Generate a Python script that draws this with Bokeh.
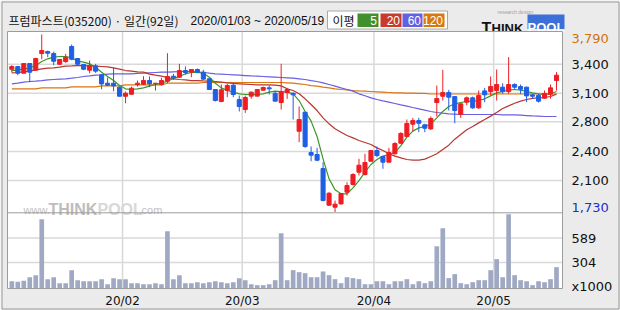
from bokeh.plotting import figure
from bokeh.models import Range1d, ColumnDataSource
from bokeh.core.properties import value
from bokeh.embed import file_html
from bokeh.resources import INLINE

# ---------------- data ----------------
title_name = "프럼파스트(035200) · 일간(92일)"
title_period = "2020/01/03 ~ 2020/05/19"

opens = [3387, 3418, 3341, 3453, 3376, 3569, 3592, 3569, 3445, 3476,
         3650, 3511, 3442, 3376, 3426, 3322, 3225, 3225, 3179, 3074,
         3097, 3210, 3213, 3256, 3218, 3210, 3248, 3306, 3295, 3372,
         3353, 3384, 3353, 3276, 3152, 3013, 3140, 3202, 3036, 2920,
         3075, 3075, 3144, 3171, 3109, 3001, 3117, 3109, 2668, 2889,
         2421, 2398, 2235, 1810, 1787, 1825, 1961, 2050, 2193, 2166,
         2320, 2444, 2375, 2309, 2406, 2529, 2607, 2750, 2792, 2742,
         2695, 3001, 3074, 3117, 3070, 2862, 3005, 3055, 2939, 3136,
         3128, 3140, 3179, 3128, 3210, 3186, 3179, 3090, 3082, 3051,
         3098, 3256]
highs = [3434, 3426, 3453, 3453, 3519, 3790, 3604, 3592, 3507, 3565,
         3674, 3511, 3449, 3488, 3449, 3333, 3291, 3403, 3186, 3128,
         3186, 3256, 3306, 3303, 3225, 3287, 3573, 3333, 3450, 3419,
         3384, 3396, 3380, 3287, 3152, 3210, 3218, 3218, 3082, 3082,
         3128, 3152, 3186, 3198, 3128, 3450, 3171, 3117, 2955, 2889,
         2491, 2475, 2309, 1961, 1864, 1945, 2077, 2181, 2348, 2406,
         2444, 2491, 2375, 2475, 2541, 2657, 2804, 2823, 2823, 2754,
         2839, 3198, 3380, 3148, 3070, 2986, 3070, 3070, 3140, 3171,
         3303, 3384, 3225, 3527, 3225, 3210, 3186, 3101, 3101, 3140,
         3210, 3353]
lows = [3349, 3318, 3341, 3237, 3376, 3503, 3527, 3434, 3438, 3461,
        3492, 3434, 3376, 3341, 3345, 3155, 3198, 3132, 3070, 2993,
        3090, 3186, 3205, 3179, 3140, 3198, 3225, 3264, 3287, 3326,
        3295, 3341, 3264, 3148, 3013, 3005, 3063, 3063, 2897, 2881,
        3044, 3075, 3140, 3094, 3013, 2920, 3044, 2804, 2541, 2475,
        2320, 2320, 1856, 1802, 1730, 1818, 1922, 2038, 2154, 2154,
        2320, 2367, 2232, 2309, 2398, 2521, 2599, 2669, 2657, 2657,
        2684, 2839, 3024, 2908, 2761, 2823, 2970, 2928, 2928, 3005,
        3082, 3024, 3101, 3101, 3155, 3101, 3005, 3044, 3001, 3044,
        3047, 3140]
closes = [3418, 3341, 3453, 3353, 3511, 3604, 3573, 3480, 3500, 3527,
          3503, 3445, 3387, 3430, 3365, 3217, 3202, 3194, 3074, 3109,
          3167, 3225, 3256, 3218, 3225, 3256, 3303, 3287, 3372, 3349,
          3384, 3353, 3272, 3152, 3024, 3148, 3198, 3094, 2955, 3059,
          3121, 3152, 3175, 3160, 3017, 3128, 3152, 3090, 2804, 2491,
          2390, 2332, 1864, 1949, 1822, 1945, 2038, 2166, 2274, 2305,
          2444, 2386, 2309, 2421, 2525, 2642, 2758, 2792, 2761, 2703,
          2815, 3047, 3117, 3063, 2908, 2986, 3055, 2939, 3082, 3090,
          3186, 3210, 3128, 3210, 3179, 3155, 3078, 3074, 3017, 3105,
          3171, 3318]
volumes = [85, 78, 90, 132, 156, 810, 109, 132, 62, 62,
           214, 97, 85, 85, 85, 109, 50, 121, 109, 109,
           62, 62, 50, 50, 62, 50, 670, 109, 156, 62,
           62, 74, 62, 74, 85, 74, 62, 74, 121, 97,
           50, 39, 39, 50, 97, 646, 97, 214, 191, 179,
           132, 132, 199, 156, 109, 62, 132, 121, 109, 50,
           50, 85, 85, 50, 85, 85, 109, 50, 85, 62,
           85, 493, 704, 121, 168, 62, 50, 74, 97, 97,
           214, 343, 132, 868, 156, 97, 85, 39, 85, 74,
           109, 249]
ma5 = [3372, 3380, 3388, 3403, 3430, 3477, 3508, 3527, 3535, 3535,
       3519, 3481, 3469, 3450, 3411, 3353, 3303, 3256, 3198, 3160,
       3152, 3160, 3171, 3191, 3210, 3225, 3249, 3280, 3303, 3334,
       3349, 3349, 3341, 3295, 3225, 3171, 3140, 3121, 3102, 3094,
       3094, 3094, 3102, 3121, 3133, 3129, 3121, 3102, 3024, 2897,
       2785, 2607, 2348, 2116, 1988, 1942, 1942, 2011, 2096, 2193,
       2282, 2340, 2379, 2398, 2421, 2502, 2599, 2669, 2707, 2723,
       2754, 2823, 2897, 2955, 2986, 3001, 3013, 3017, 3024, 3044,
       3078, 3113, 3129, 3144, 3152, 3144, 3129, 3113, 3102, 3094,
       3102, 3129]
ma20 = [3345, 3349, 3357, 3368, 3380, 3392, 3399, 3403, 3411, 3423,
        3426, 3430, 3430, 3426, 3423, 3419, 3415, 3403, 3388, 3372,
        3365, 3357, 3353, 3330, 3318, 3307, 3291, 3276, 3268, 3264,
        3256, 3256, 3252, 3249, 3245, 3237, 3229, 3222, 3218, 3214,
        3210, 3206, 3206, 3206, 3202, 3194, 3160, 3140, 3102, 3044,
        2978, 2908, 2823, 2754, 2696, 2657, 2618, 2591, 2560, 2537,
        2514, 2475, 2444, 2406, 2379, 2359, 2340, 2332, 2332, 2344,
        2375, 2406, 2456, 2506, 2576, 2630, 2684, 2723, 2765, 2804,
        2843, 2885, 2932, 2962, 2993, 3017, 3036, 3048, 3055, 3059,
        3071, 3098]
ma60 = [3218, 3225, 3237, 3245, 3249, 3256, 3264, 3268, 3272, 3276,
        3283, 3291, 3303, 3310, 3318, 3322, 3330, 3334, 3334, 3334,
        3334, 3338, 3341, 3345, 3349, 3353, 3353, 3357, 3361, 3361,
        3361, 3357, 3349, 3341, 3334, 3330, 3326, 3322, 3318, 3314,
        3310, 3307, 3303, 3299, 3295, 3291, 3287, 3283, 3276, 3268,
        3256, 3245, 3229, 3210, 3191, 3171, 3152, 3133, 3102, 3079,
        3055, 3036, 3020, 3005, 2990, 2974, 2959, 2943, 2928, 2912,
        2897, 2885, 2877, 2870, 2866, 2862, 2862, 2862, 2862, 2862,
        2862, 2862, 2858, 2858, 2858, 2854, 2850, 2846, 2843, 2839,
        2839, 2839]
ma120 = [3160, 3160, 3160, 3160, 3160, 3171, 3171, 3171, 3171, 3171,
         3183, 3183, 3183, 3183, 3183, 3194, 3194, 3194, 3194, 3206,
         3206, 3206, 3206, 3206, 3206, 3206, 3225, 3225, 3225, 3225,
         3225, 3225, 3233, 3233, 3233, 3233, 3233, 3233, 3233, 3233,
         3233, 3233, 3233, 3233, 3233, 3233, 3229, 3225, 3218, 3210,
         3198, 3191, 3179, 3171, 3160, 3152, 3148, 3140, 3136, 3133,
         3129, 3125, 3121, 3117, 3113, 3113, 3109, 3109, 3106, 3106,
         3100, 3100, 3100, 3100, 3100, 3100, 3100, 3100, 3100, 3100,
         3100, 3100, 3100, 3100, 3100, 3100, 3100, 3100, 3100, 3100,
         3100, 3100]

month_start_idx = [19, 39, 61, 81]
month_labels = ["20/02", "20/03", "20/04", "20/05"]

price_grid_values = [3445, 3109, 2777, 2433, 2096]
price_grid_labels = ["3,400", "3,100", "2,800", "2,400", "2,100"]
price_high, price_low = 3790, 1730
vol_grid_values = [589, 304]
vol_grid_labels = ["589", "304"]
vol_unit_label = "x1000"

ma_periods = ["5", "20", "60", "120"]

n = len(closes)
for arr in (opens, highs, lows, volumes, ma5, ma20, ma60, ma120):
    assert len(arr) == n

# ---------------- styles ----------------
BG = "#ebebeb"
RED = "#ee1d23"
BLUE = "#1f5fe4"
C_MA = ["#3b9826", "#b8362e", "#6a5fe0", "#dc7410"]
C_LEG = ["#41902c", "#c83a2d", "#6461de", "#d6790f"]
GRID = "#d9d9d9"
FRAME_C = "#9c9c9c"
FONT = "Noto Sans CJK KR"
NUMFONT = "DejaVu Sans"
LATIN = "Liberation Sans"

# geometry (pixels of the 620x310 picture)
W, H = 620, 310
FRAME_L, FRAME_R = 7, 562
FRAME_T, FRAME_B = 31, 288
SEP_Y = 212.3
X0, X1 = -0.72, 92.0
PX_PER_UNIT = (FRAME_R - FRAME_L) / (X1 - X0)
PRICE_PER_PX = 11.6
P_TOP = price_high + 3 * PRICE_PER_PX
VOL_PER_PX = 11.68


def xd(px):
    return (px - FRAME_L) / PX_PER_UNIT + X0


def yd(py):
    return P_TOP - (py - FRAME_T) * PRICE_PER_PX


def vd(py):
    return (FRAME_B - py) * VOL_PER_PX


P_BOT = yd(FRAME_B)
P_SEP = yd(SEP_Y)

# whole canvas is the frame; scales map the chart's own panels
p = figure(width=W, height=H, output_backend="svg", toolbar_location=None, title=None,
           x_axis_location=None, y_axis_location=None, min_border=0,
           x_range=Range1d(xd(0), xd(W)), y_range=Range1d(yd(H), yd(0)))
p.extra_y_ranges = {"vol": Range1d(vd(H), vd(0))}
p.grid.visible = False
p.outline_line_color = None
p.background_fill_color = BG
p.border_fill_color = BG


def txt(x, y, s, font=FONT, size="12px", color="#111111", align="left", baseline="middle",
        style="normal", **kw):
    p.text(x=x, y=y, text=s, text_font=value(font), text_font_size=size, text_color=color,
           text_align=align, text_baseline=baseline, text_font_style=style, **kw)


# outer picture border
p.quad(left=[xd(1.5)], right=[xd(W - 1.5)], top=[yd(1.5)], bottom=[yd(H - 1.5)],
       fill_color=None, line_color="#9a9a9a", line_width=1)

# ---------------- header ----------------
txt([xd(8)], [yd(20)], [title_name])
txt([xd(190)], [yd(20.5)], [title_period], font=LATIN)
p.quad(left=[xd(327)], right=[xd(447)], top=[yd(10.5)], bottom=[yd(28.5)], fill_color="white",
       line_color="#a8a8a8", line_width=1)
txt([xd(332)], [yd(20)], ["이평"])
leg_l = [357, 380, 402, 423]
leg_r = [378, 401, 422, 444]
p.quad(left=[xd(v) for v in leg_l], right=[xd(v) for v in leg_r], top=[yd(13)] * 4,
       bottom=[yd(26.5)] * 4, fill_color=C_LEG, line_color=None)
txt([xd(v - 1.5) for v in leg_r], [yd(20)] * 4, ma_periods, font=LATIN, color="white", align="right")
# logo
txt([xd(481)], [yd(27.5)], ["T"], font=LATIN, size="16px", style="bold", baseline="alphabetic")
txt([xd(491)], [yd(27.5)], ["HINK"], font=LATIN, size="13px", style="bold", baseline="alphabetic")
p.quad(left=[xd(527)], right=[xd(564)], top=[yd(14)], bottom=[yd(28.5)], fill_color="#3c70d8",
       line_color=None)
txt([xd(545.5)], [yd(26.5)], ["POOL"], font=LATIN, size="13px", style="bold", color="white",
    align="center", baseline="alphabetic")
txt([xd(497)], [yd(11)], ["research design"], font=LATIN, size="5px", color="#a0a0a0")

# ---------------- chart panels ----------------
p.quad(left=[X0], right=[X1], top=[P_TOP], bottom=[P_BOT], fill_color="white", line_color=None)

# grid lines
gx = [m - 0.5 for m in month_start_idx]
p.segment(x0=gx, y0=[P_BOT] * len(gx), x1=gx, y1=[P_TOP] * len(gx), line_color=GRID, line_width=1.5)
p.segment(x0=[X0] * len(price_grid_values), y0=price_grid_values, x1=[X1] * len(price_grid_values),
          y1=price_grid_values, line_color=GRID, line_width=1.5)
p.segment(x0=[X0] * len(vol_grid_values), y0=vol_grid_values, x1=[X1] * len(vol_grid_values),
          y1=vol_grid_values, line_color=GRID, line_width=1.5, y_range_name="vol")

# watermark
txt([xd(23)], [yd(209)], ["www."], font=LATIN, size="11px", color="#c2c2c2", baseline="alphabetic")
txt([xd(48)], [yd(209)], ["THINK"], font=LATIN, size="16px", style="bold", color="#bdbdbd",
    baseline="alphabetic")
txt([xd(97)], [yd(209)], ["POOL"], font=LATIN, size="16px", style="bold", color="#d8d8d8",
    baseline="alphabetic")
txt([xd(138)], [yd(209)], [".com"], font=LATIN, size="11px", color="#c2c2c2", baseline="alphabetic")

idx = list(range(n))
src = ColumnDataSource(dict(
    i=idx, o=opens, h=highs, l=lows, c=closes, v=volumes,
    top=[max(a, b) for a, b in zip(opens, closes)],
    bot=[min(a, b) for a, b in zip(opens, closes)],
    col=[RED if c >= o else BLUE for o, c in zip(opens, closes)],
))

# volume bars
p.vbar(x="i", top="v", bottom=0, width=0.78, source=src, y_range_name="vol",
       fill_color="#a0a9c3", line_color=None)

# moving averages
p.line(idx, ma120, line_color=C_MA[3], line_width=1.2)
p.line(idx, ma60, line_color=C_MA[2], line_width=1.2)
p.line(idx, ma20, line_color=C_MA[1], line_width=1.2)
p.line(idx, ma5, line_color=C_MA[0], line_width=1.2)

# candles
p.segment(x0="i", y0="l", x1="i", y1="h", source=src, line_color="col", line_width=1)
p.vbar(x="i", top="top", bottom="bot", width=0.68, source=src, fill_color="col", line_color="col",
       line_width=1)

# panel frames
p.quad(left=[X0], right=[X1], top=[P_TOP], bottom=[P_BOT], fill_color=None, line_color=FRAME_C,
       line_width=1)
p.segment(x0=[X0], y0=[P_SEP], x1=[X1], y1=[P_SEP], line_color=FRAME_C, line_width=1)

# ---------------- value labels (right) and months (bottom) ----------------
LBL_X = xd(571)
txt([LBL_X] * len(price_grid_values), price_grid_values, price_grid_labels, font=NUMFONT, size="13px")
txt([LBL_X], [yd(38)], [f"{price_high:,}"], font=NUMFONT, size="13px", color="#d2730f")
txt([LBL_X], [yd(207)], [f"{price_low:,}"], font=NUMFONT, size="13px", color="#1a2fd0")
txt([LBL_X] * len(vol_grid_values), vol_grid_values, vol_grid_labels, font=NUMFONT, size="13px",
    y_range_name="vol")
txt([LBL_X], [yd(286)], [vol_unit_label], font=NUMFONT, size="13px")
txt(gx, [yd(300.5)] * len(gx), month_labels, font=NUMFONT, size="12px", align="center")

open("out.html", "w").write(file_html(p, INLINE))
